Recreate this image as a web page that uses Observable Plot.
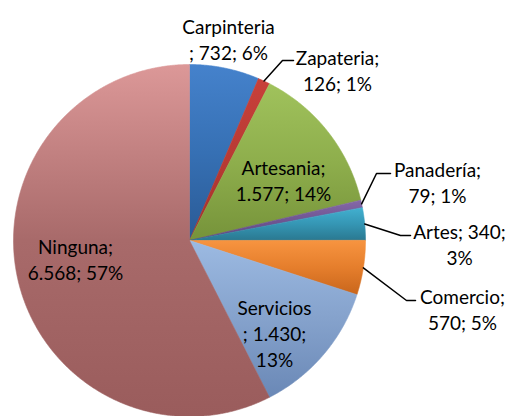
<!DOCTYPE html>
<html>
<head>
<meta charset="utf-8">
<script src="https://cdn.jsdelivr.net/npm/d3@7"></script>
<script src="https://cdn.jsdelivr.net/npm/@observablehq/plot@0.6"></script>
<style>
  html, body { margin: 0; padding: 0; background: #fff; }
  #chart { width: 510px; height: 416px; }
</style>
</head>
<body>
<svg width="0" height="0" style="position:absolute"><defs id="grads"></defs></svg>
<div id="chart"></div>
<script>
// ---- data ----
const categories = ["Carpinteria", "Zapateria", "Artesania", "Panadería", "Artes", "Comercio", "Servicios", "Ninguna"];
const values = [732, 126, 1577, 79, 340, 570, 1430, 6568];
const percents = [6, 1, 14, 1, 3, 5, 13, 57];
// label templates ({n} name, {v} value, {p} percent)
const labelTemplates = [
  "{n}\n; {v}; {p}%",
  "{n};\n{v}; {p}%",
  "{n};\n{v}; {p}%",
  "{n};\n{v}; {p}%",
  "{n}; {v};\n{p}%",
  "{n};\n{v}; {p}%",
  "{n}\n; {v};\n{p}%",
  "{n};\n{v}; {p}%"
];

// ---- styles ----
const topColors = ["#4582cc", "#c8403a", "#a0c25c", "#8568a8", "#42b0d0", "#f79440", "#9cbae2", "#dc9898"];
const midColors = ["#3670b4", "#b83a34", "#8eae4c", "#6f5592", "#3596b4", "#e57e2c", "#85a2cc", "#a86a6a"];
const botColors = ["#2a5a95", "#a3302b", "#76933a", "#5e4682", "#2a7890", "#c9661c", "#6a88b6", "#9a5c5c"];

// ---- layout (pixel space) ----
const cx = 189, cy = 240, R = 176;
const labelPos = [
  [228, 38], [337, 69], [283, 179], [437, 181], [459, 243], [462, 308], [274, 332], [75, 258]
];
// leader lines: elbow and end points for slices that have them
const leaders = [
  {i: 1, elbow: [282, 60], end: [293, 60]},
  {i: 3, elbow: [376, 173], end: [390, 173]},
  {i: 4, elbow: [400, 235], end: [410, 235]},
  {i: 5, elbow: [406, 300], end: [415, 300]}
];

// gradients
const defs = document.getElementById("grads");
defs.innerHTML = categories.map((c, i) =>
  `<linearGradient id="g${i}" x1="0" y1="0" x2="0" y2="1">
     <stop offset="0" stop-color="${topColors[i]}"/>
     <stop offset="0.5" stop-color="${midColors[i]}"/>
     <stop offset="1" stop-color="${botColors[i]}"/>
   </linearGradient>`).join("");

const fmt = d3.formatLocale({decimal: ",", thousands: ".", grouping: [3], currency: ["", ""]}).format(",d");
const arcs = d3.pie().sort(null).value(d => d).startAngle(0).endAngle(2 * Math.PI)(values);
const pt = (a, r) => ({x: cx + r * Math.sin(a), y: cy - r * Math.cos(a)});

const sliceMarks = arcs.map((a, i) => {
  const pts = [{x: cx, y: cy}];
  const n = Math.max(2, Math.ceil((a.endAngle - a.startAngle) / 0.005));
  for (let k = 0; k <= n; k++) pts.push(pt(a.startAngle + (a.endAngle - a.startAngle) * k / n, R));
  pts.push({x: cx, y: cy});
  return Plot.line(pts, {x: "x", y: "y", fill: `url(#g${i})`, stroke: `url(#g${i})`, strokeWidth: 0.6});
});

const labels = categories.map((c, i) => ({
  x: labelPos[i][0], y: labelPos[i][1],
  text: labelTemplates[i].replace("{n}", c).replace("{v}", fmt(values[i])).replace("{p}", percents[i])
}));

const leaderLines = leaders.map(l => {
  const a = arcs[l.i];
  const s = pt((a.startAngle + a.endAngle) / 2, R);
  return [s, {x: l.elbow[0], y: l.elbow[1]}, {x: l.end[0], y: l.end[1]}];
});

const chart = Plot.plot({
  width: 510, height: 416,
  margin: 0,
  x: {domain: [0, 510], range: [0, 510], axis: null},
  y: {domain: [0, 416], range: [0, 416], axis: null},
  style: {fontFamily: "Lato, 'Open Sans', sans-serif", background: "#fff"},
  marks: [
    ...sliceMarks,
    ...leaderLines.map(p => Plot.line(p, {x: "x", y: "y", stroke: "#000", strokeWidth: 1.5})),
    Plot.text(labels, {x: "x", y: "y", text: "text", fontSize: 19, lineHeight: 1.38, fill: "#000"})
  ]
});
document.getElementById("chart").appendChild(chart);
</script>
</body>
</html>
